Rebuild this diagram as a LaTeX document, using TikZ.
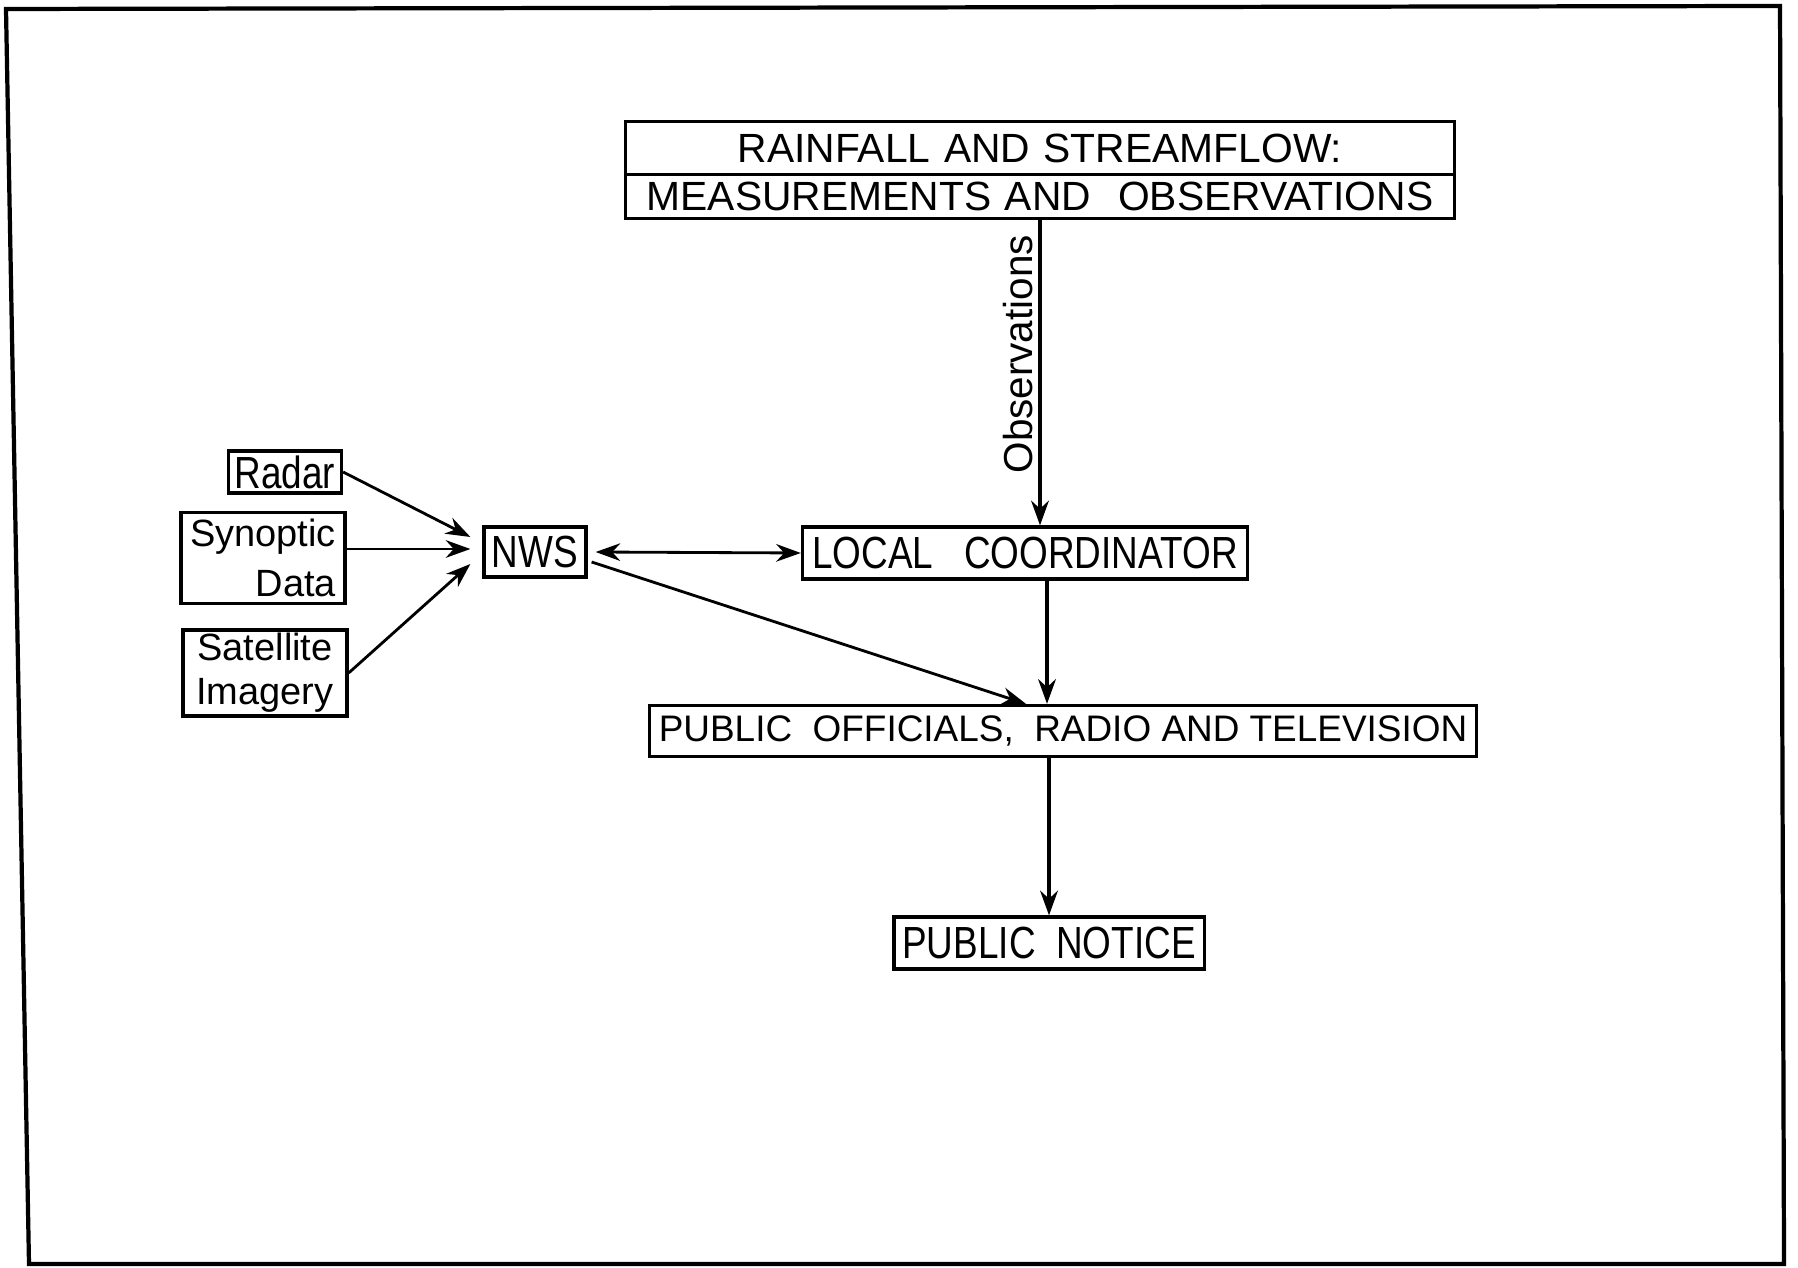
\documentclass[tikz,border=0pt]{standalone}
\usepackage{fontspec}
\setmainfont{Liberation Sans}
\usepackage{tikz}
\usetikzlibrary{shapes,arrows.meta,positioning,calc}

\newcommand{\narrowtext}[1]{\scalebox{0.82}[1]{#1}}

\tikzset{box/.style={
    draw,
    rectangle,
    line width=0.9pt,
    inner sep=0pt,
    align=center,
    font=\fontsize{10.5}{12}\selectfont,
    % fill=white,
  }}
\tikzset{tallfont/.style={font=\fontsize{12.8}{14}\selectfont}}
\tikzset{flow/.style={-{Stealth[length=7pt,width=5pt]}, line width=1.2pt}}
\tikzset{feed/.style={-{Stealth[length=7pt,width=5pt]}, line width=0.8pt}}

\begin{document}
\begin{tikzpicture}[x=0.01cm, y=-0.01cm]
        \useasboundingbox (0,0) rectangle (1798,1268);
        \draw[line width=1.2pt] (6,9) -- (1780,6) -- (1784,1264) -- (29,1264) -- cycle;

        \node (meas) [rectangle split, rectangle split parts=2, draw, line width=0.9pt,
        text width=8.15cm, align=center, inner xsep=2pt, inner ysep=1.6pt,
        text height=9.5pt, text depth=1.5pt, font=\fontsize{11.6}{13}\selectfont] at (1040,170)
        {
          \nodepart{text} RAINFALL AND STREAMFLOW:
          \nodepart{two}  MEASUREMENTS AND\ \ OBSERVATIONS
        };

        \node (local) [box, tallfont, minimum width=4.45cm, minimum height=0.52cm] at (1025,553)
        {\narrowtext{LOCAL\ \ \ COORDINATOR}};
        \node (nws) [box, tallfont, minimum width=1.02cm, minimum height=0.50cm] at (535,552) {\narrowtext{NWS}};
        \node (officials) [box, minimum width=8.27cm, minimum height=0.51cm] at (1063,731)
        {PUBLIC\ \ OFFICIALS,\ \ RADIO AND TELEVISION};
        \node (notice) [box, tallfont, minimum width=3.10cm, minimum height=0.52cm] at (1049,943)
        {\narrowtext{PUBLIC\ \ NOTICE}};

        \node (radar) [box, tallfont, minimum width=1.13cm, minimum height=0.42cm] at (285,472) {\narrowtext{Radar}};
        \node (synoptic) [box, minimum width=1.64cm, minimum height=0.91cm, align=right,
        font=\fontsize{10.8}{14}\selectfont] at (263,558) {Synoptic\\Data};
        \node (satellite) [box, minimum width=1.64cm, minimum height=0.86cm,
        font=\fontsize{10.8}{12.5}\selectfont] at (265,673) {Satellite\\Imagery};

        \draw[flow] (meas.south) -- (meas.south |- local.north)
        node[pos=0.44, rotate=90, anchor=south, inner sep=1.5pt, font=\fontsize{11.5}{13}\selectfont] {Observations};

        \draw[feed] (radar.east) -- ($(nws.west) + (-12,-15)$);
        \draw[feed] ($(synoptic.east) + (0,-9)$) -- ($(nws.west) + (-12,-3)$);
        \draw[feed] (satellite.east) -- ($(nws.west) + (-12,12)$);

        \draw[{Stealth[length=7pt,width=5pt]}-{Stealth[length=7pt,width=5pt]}, line width=0.8pt]
        ($(nws.east) + (8,0)$) -- (local.west);
        \draw[feed] ($(nws.east) + (4,10)$) -- ($(officials.north) + (-37,0)$);

        \draw[flow] ($(local.south) + (22,0)$) coordinate (lc) -- (lc |- officials.north);
        \draw[flow] (notice.north |- officials.south) -- (notice.north);

      \end{tikzpicture}
\end{document}
